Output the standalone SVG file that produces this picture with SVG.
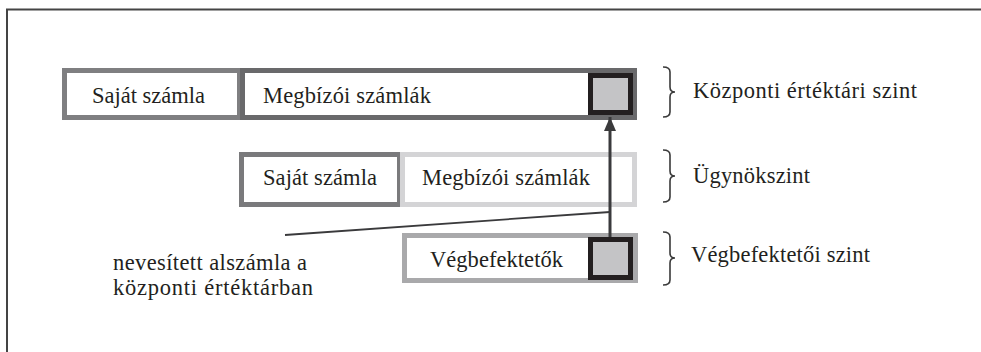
<svg xmlns="http://www.w3.org/2000/svg" width="981" height="352" viewBox="0 0 981 352">
<style>
.t{font-family:'Liberation Serif','DejaVu Serif','Times New Roman',serif;font-size:22.5px;fill:#231f20}
.br{fill:none;stroke:#3a3a3a;stroke-width:1.6}
.cell{fill:#fff;stroke-width:5}
.sq{fill:#c4c4c6;stroke:#231f20;stroke-width:5}
</style>
<defs>
<marker id="ah" markerWidth="14" markerHeight="12" refX="14" refY="6" orient="auto" markerUnits="userSpaceOnUse">
<path d="M0 0 L14 6 L0 12 Z" fill="#3a3a3c"/>
</marker>
</defs>
<rect width="981" height="352" fill="#fff"/>
<path d="M7 360 V9.5 H990" fill="none" stroke="#444" stroke-width="2"/>

<g id="top-row">
<rect class="cell" x="64.5" y="70.5" width="175" height="47" stroke="#7f7f81"/>
<rect class="cell" x="242.5" y="70.5" width="392" height="47" stroke="#69696b"/>
<rect class="sq" x="590.5" y="75.5" width="40" height="37"/>
<text class="t" x="92" y="103" textLength="113" lengthAdjust="spacing">Saját számla</text>
<text class="t" x="263" y="103" textLength="168" lengthAdjust="spacing">Megbízói számlák</text>
</g>

<g id="middle-row">
<rect class="cell" x="241.5" y="154.5" width="158" height="50" stroke="#7a7a7c"/>
<rect class="cell" x="402.5" y="154.5" width="232" height="50" stroke="#d4d4d6"/>
<text class="t" x="263" y="185" textLength="114" lengthAdjust="spacing">Saját számla</text>
<text class="t" x="422" y="185" textLength="168" lengthAdjust="spacing">Megbízói számlák</text>
</g>

<g id="bottom-row">
<rect class="cell" x="404.5" y="235.5" width="231" height="45" stroke="#a9a9ab"/>
<rect class="sq" x="590.5" y="239.5" width="40" height="38"/>
<text class="t" x="430" y="267" textLength="133" lengthAdjust="spacing">Végbefektetők</text>
</g>

<g id="connectors">
<line x1="610" y1="237" x2="610" y2="117" stroke="#3a3a3c" stroke-width="3" marker-end="url(#ah)"/>
<line x1="285" y1="235" x2="610" y2="212" stroke="#3a3a3c" stroke-width="1.8"/>
</g>

<g id="label">
<text class="t" x="113" y="270" textLength="194" lengthAdjust="spacing">nevesített alszámla a</text>
<text class="t" x="113" y="295" textLength="200" lengthAdjust="spacing">központi értéktárban</text>
</g>

<g id="level-1">
<path class="br" d="M663 67 Q670 67 670 72 V87 Q670 92 675 92 Q670 92 670 97 V112 Q670 117 663 117"/>
<text class="t" x="693" y="98" textLength="224" lengthAdjust="spacing">Központi értéktári szint</text>
</g>
<g id="level-2">
<path class="br" d="M663 150 Q670 150 670 155 V171 Q670 176 675 176 Q670 176 670 181 V197 Q670 202 663 202"/>
<text class="t" x="693" y="183" textLength="117" lengthAdjust="spacing">Ügynökszint</text>
</g>
<g id="level-3">
<path class="br" d="M663 232 Q670 232 670 237 V253 Q670 258 675 258 Q670 258 670 263 V280 Q670 285 663 285"/>
<text class="t" x="691" y="262" textLength="179" lengthAdjust="spacing">Végbefektetői szint</text>
</g>
</svg>
